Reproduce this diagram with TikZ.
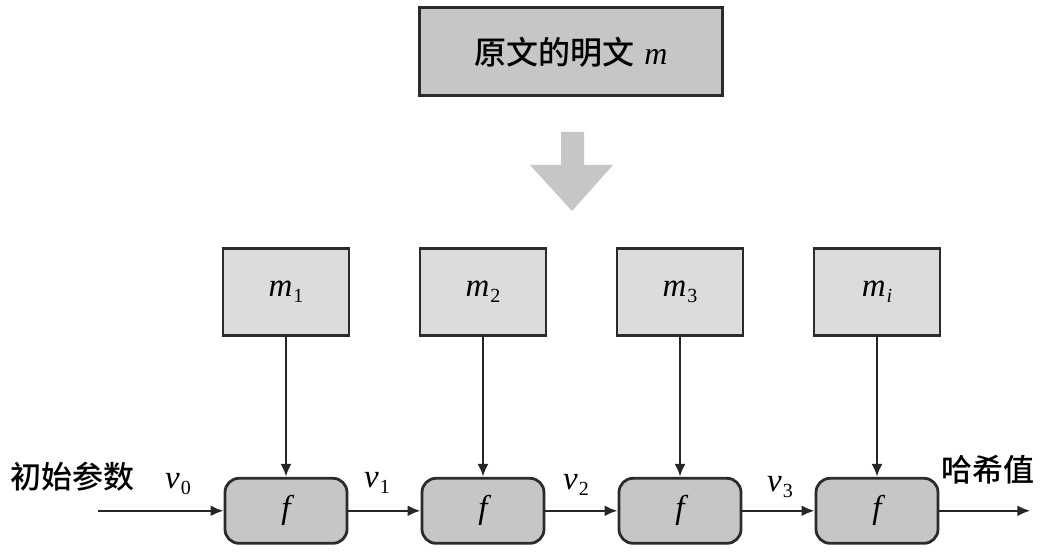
\documentclass[tikz,border=0pt]{standalone}
\usepackage{fontspec}
\newfontfamily\cjk{Noto Sans CJK SC}[BoldFont={Noto Sans CJK SC Medium}]
\newfontfamily\tms{Liberation Serif}
\usetikzlibrary{positioning, arrows.meta}
\definecolor{boxgray}{HTML}{C6C6C6}
\definecolor{lightgray}{HTML}{DCDCDC}
\definecolor{edgegray}{HTML}{2B2B2B}
\newcommand{\sv}[2]{{\tms\itshape #1}\kern1pt\raisebox{-6pt}{\tms\fontsize{20}{20}\selectfont #2}}
\tikzstyle{plain}=[draw=edgegray, line width=3pt, fill=boxgray,
                   minimum width=303pt, minimum height=88pt, font=\fontsize{32}{36}\selectfont]
\tikzstyle{blk}=[draw=edgegray, line width=2.8pt, fill=lightgray,
                 minimum width=126pt, minimum height=87pt, font=\fontsize{33}{36}\selectfont]
\tikzstyle{fn}=[draw=edgegray, line width=2.8pt, fill=boxgray, rounded corners=14pt,
                minimum width=122pt, minimum height=65pt, font=\fontsize{33}{36}\selectfont]
\tikzstyle{lbl}=[font=\fontsize{33}{36}\selectfont]
\tikzstyle{cn}=[font=\cjk\bfseries\fontsize{31}{34}\selectfont]
\tikzstyle{ar}=[-{Latex[length=13pt,width=11pt]}, line width=2.6pt, draw=black!85]

\begin{document}
\begin{tikzpicture}[x=1pt, y=-1pt]
    \useasboundingbox (0,0) rectangle (1041,553);
    \node[plain] (msg) at (571,52) {{\cjk\bfseries 原文的明文}\ {\tms\itshape m}};
    % big down arrow
    \fill[boxgray] (561,132) -- (584,132) -- (584,165) -- (613,165) -- (572,211)
                   -- (530,165) -- (561,165) -- cycle;
    \node[blk] (m1) at (286,292) {\sv{m}{1}};
    \node[blk] (m2) at (483,292) {\sv{m}{2}};
    \node[blk] (m3) at (680,292) {\sv{m}{3}};
    \node[blk] (mi) at (877,292) {\sv{m}{\itshape i}};
    \node[fn, below=140pt of m1.south, anchor=north] (f1) {\tms\itshape f};
    \node[fn, below=140pt of m2.south, anchor=north] (f2) {\tms\itshape f};
    \node[fn, below=140pt of m3.south, anchor=north] (f3) {\tms\itshape f};
    \node[fn, below=140pt of mi.south, anchor=north] (f4) {\tms\itshape f};
    \path (f1.west) ++(-126,0) coordinate (in);
    \path (f4.east) ++(91,0) coordinate (out);
    \node[cn]  (init) at (72,477)  {初始参数};
    \node[cn]  (hash) at (988,470) {哈希值};
    \node[lbl] (v0) at (178,484) {\sv{v}{0}};
    \node[lbl] (v1) at (377,483) {\sv{v}{1}};
    \node[lbl] (v2) at (576,485) {\sv{v}{2}};
    \node[lbl] (v3) at (780,487) {\sv{v}{3}};
    \draw[ar] (m1)--(f1); \draw[ar] (m2)--(f2);
    \draw[ar] (m3)--(f3); \draw[ar] (mi)--(f4);
    \draw[ar] (in)--(f1); \draw[ar] (f1)--(f2);
    \draw[ar] (f2)--(f3); \draw[ar] (f3)--(f4);
    \draw[ar] (f4)--(out);
  \end{tikzpicture}
\end{document}
